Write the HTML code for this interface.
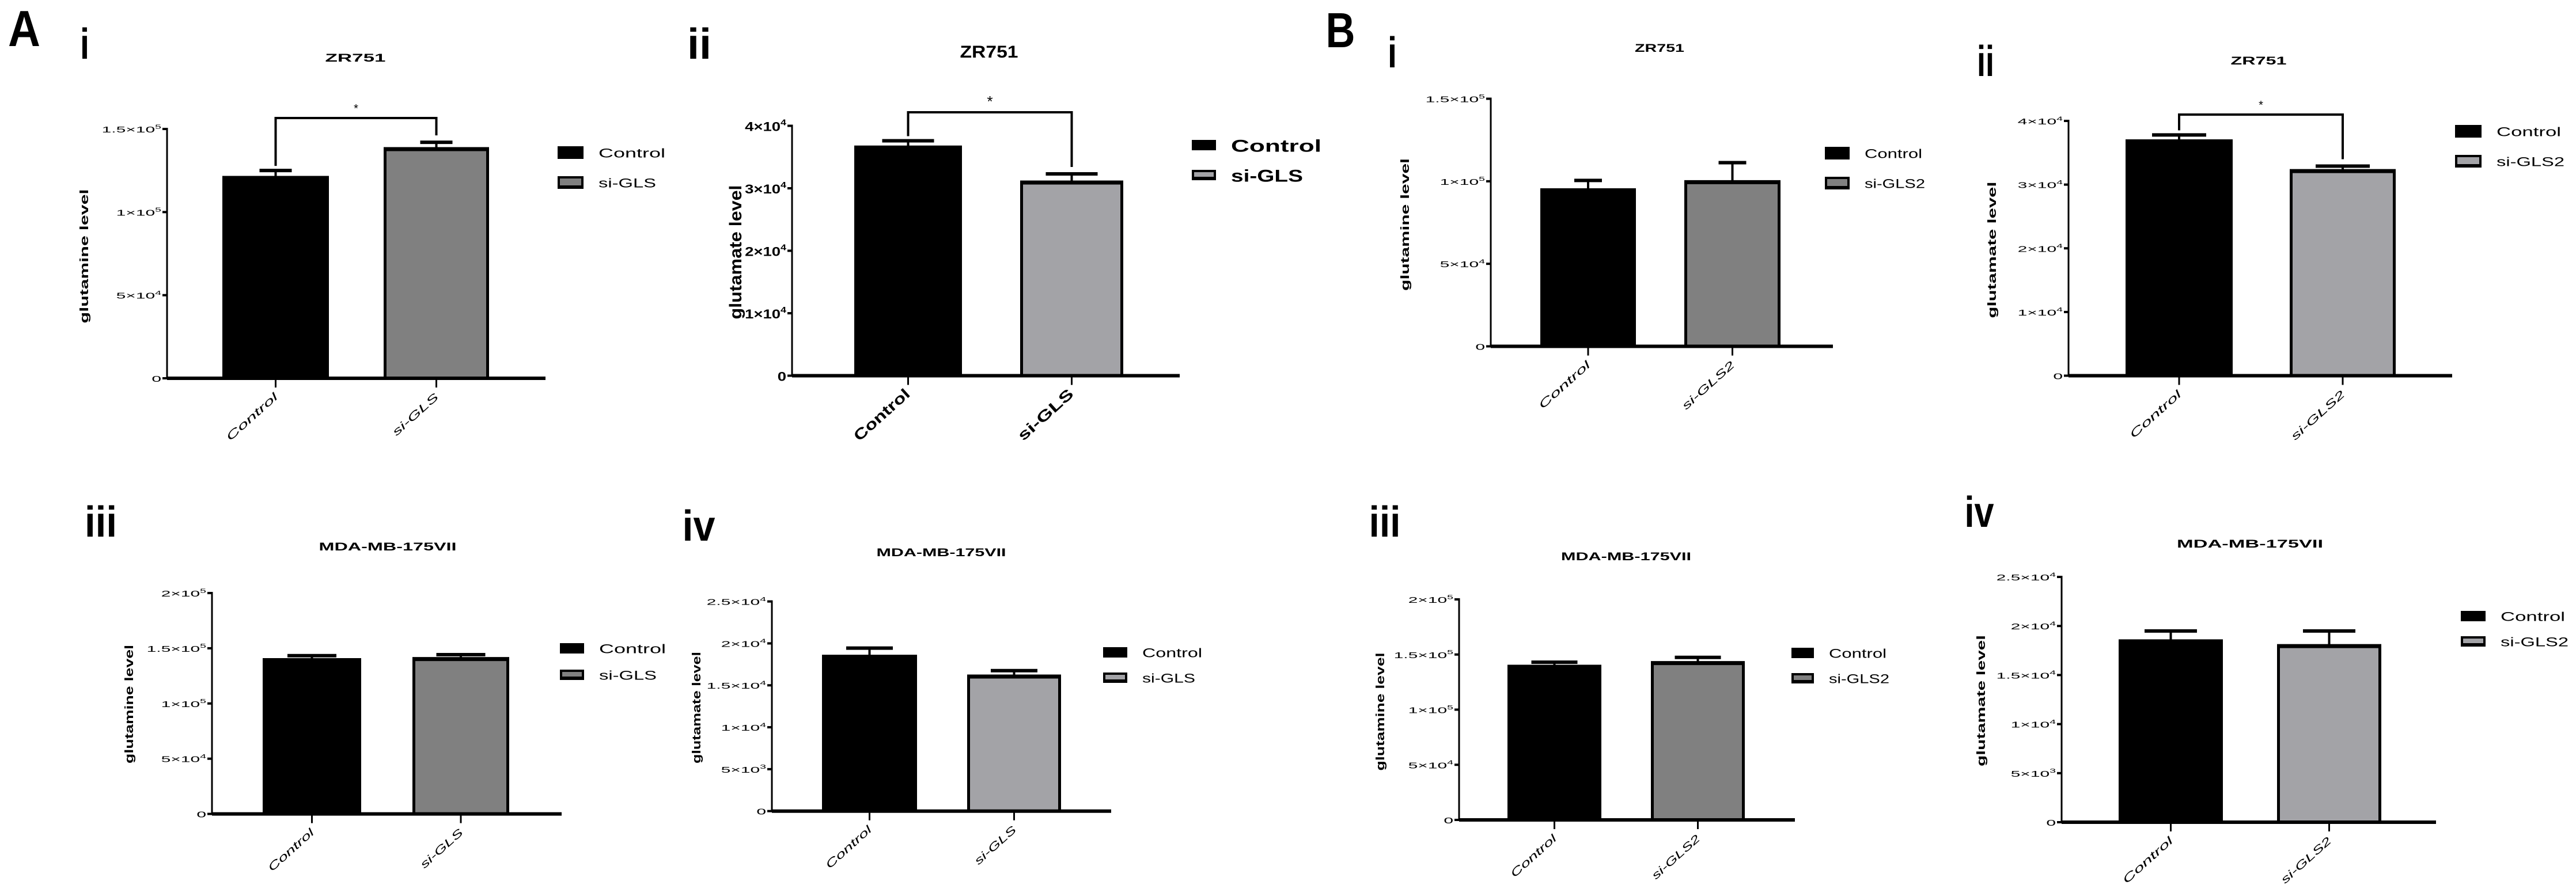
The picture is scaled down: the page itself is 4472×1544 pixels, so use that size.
<!DOCTYPE html>
<html><head><meta charset="utf-8"><style>
html,body{margin:0;padding:0;background:#fff;}
svg{display:block;}
text{font-family:"Liberation Sans",sans-serif;fill:#000;}
</style></head><body>
<svg id="fig" width="4472" height="1544" viewBox="0 0 4472 1544" xmlns="http://www.w3.org/2000/svg"></svg>
<script>
// ---- data ----
const catsA = ["Control","si-GLS"];
const catsB = ["Control","si-GLS2"];
const aiValues = [121600,138900];  const aiErrors = [3400,3100];
const aiiValues = [36800,31200];   const aiiErrors = [800,1100];
const aiiiValues = [140800,141800];const aiiiErrors = [2500,2400];
const aivValues = [18610,16250];   const aivErrors = [830,500];
const biValues = [95600,100500];   const biErrors = [4900,10800];
const biiValues = [37060,32400];   const biiErrors = [740,500];
const biiiValues = [140500,143800];const biiiErrors = [2500,3600];
const bivValues = [18610,18130];   const bivErrors = [880,1360];
const ticks15e5 = [0,50000,100000,150000];
const labels15e5 = ["0","5×10^4","1×10^5","1.5×10^5"];
const ticks4e4 = [0,10000,20000,30000,40000];
const labels4e4 = ["0","1×10^4","2×10^4","3×10^4","4×10^4"];
const ticks2e5 = [0,50000,100000,150000,200000];
const labels2e5 = ["0","5×10^4","1×10^5","1.5×10^5","2×10^5"];
const ticks25e4 = [0,5000,10000,15000,20000,25000];
const labels25e4 = ["0","5×10^3","1×10^4","1.5×10^4","2×10^4","2.5×10^4"];

const NS="http://www.w3.org/2000/svg";
const svg=document.getElementById('fig');
function el(tag,attrs,parent){const e=document.createElementNS(NS,tag);for(const k in attrs)e.setAttribute(k,attrs[k]);(parent||svg).appendChild(e);return e;}
function txt(parent,x,y,str,size,opts){
  opts=opts||{};
  const t=el('text',{x:x,y:y,'font-size':size,'text-anchor':opts.anchor||'middle','font-weight':opts.bold?'bold':'normal'},parent);
  if(opts.len){t.setAttribute('textLength',opts.len);t.setAttribute('lengthAdjust','spacingAndGlyphs');}
  if(opts.rot!==undefined)t.setAttribute('transform','rotate('+opts.rot+' '+x+' '+y+')');
  t.textContent=str;return t;
}
function tickLabel(parent,x,y,lab,size,sx,bold){
  const g=el('g',{transform:'translate('+x+' '+y+') scale('+sx+' 1)'},parent);
  const t=el('text',{x:0,y:0,'font-size':size,'text-anchor':'end','font-weight':bold?'bold':'normal'},g);
  const parts=lab.split('^');
  const a=el('tspan',{},t);a.textContent=parts[0];
  if(parts[1]){const b=el('tspan',{dy:-size*0.45,'font-size':size*0.65},t);b.textContent=parts[1];}
  return t;
}

function panel(p,values,errors,ticks,tickLabels,cats){
  const g=el('g',{});
  
  
  const y=v=>p.zero-(v/p.max)*(p.zero-p.top);
  // panel numeral & title
  const pl=txt(g,p.numX,p.numY,p.num,p.numSize,{bold:true,len:p.numW});
  
  const tt=txt(g,p.titleX,p.titleY,p.title,p.titleSize,{bold:true,len:p.titleW});
  
  // y axis
  const ya=el('line',{x1:p.ax,y1:p.top-2,x2:p.ax,y2:p.zero,stroke:'#000','stroke-width':3},g);
  
  ticks.forEach((tv,i)=>{
    const ty=y(tv);
    const tk=el('line',{x1:p.ax-8,y1:ty,x2:p.ax,y2:ty,stroke:'#000','stroke-width':4},g);
    
    const tl=tickLabel(g,p.ax-10,ty+p.tickSize*0.4,tickLabels[i],p.tickSize,p.tickSx,p.bold);
    
  });
  const yl=txt(g,p.ylX,p.ylY,p.ylabel,p.ylSize,{bold:true,len:p.ylLen,rot:-90});
  
  // bars
  const fills=['#000',p.grey];
  const centers=[];
  values.forEach((v,i)=>{
    const x0=p.bars[i][0],x1=p.bars[i][1],cx=(x0+x1)/2;centers.push(cx);
    const top=y(v),et=y(v+errors[i]);
    const eb=el('line',{x1:cx,y1:top,x2:cx,y2:et,stroke:'#000','stroke-width':4},g);
    
    const cap=el('line',{x1:cx-p.cap/2,y1:et,x2:cx+p.cap/2,y2:et,stroke:'#000','stroke-width':6},g);
    
    const r=el('rect',{x:x0+2.5,y:top+2.5,width:x1-x0-5,height:p.zero-top-2.5,fill:fills[i],stroke:'#000','stroke-width':5},g);
    
    const tb=el('line',{x1:x0,y1:top+3,x2:x1,y2:top+3,stroke:'#000','stroke-width':7},g);
    
    const xt=el('line',{x1:cx,y1:p.zero,x2:cx,y2:p.zero+16,stroke:'#000','stroke-width':3},g);
    
    const xl=txt(g,cx+5,p.zero+34,cats[i],p.xlSize,{anchor:'end',bold:p.bold,len:p.xlLen[i],rot:-42});
    xl.setAttribute('font-style',p.bold?'normal':'italic');
    
  });
  const xa=el('line',{x1:p.ax,y1:p.zero,x2:p.right,y2:p.zero,stroke:'#000','stroke-width':6},g);
  
  // significance bracket
  if(p.bracket){
    const e0=y(values[0]+errors[0])-8,e1=y(values[1]+errors[1])-12;
    const br=el('polyline',{points:centers[0]+','+e0+' '+centers[0]+','+p.bracket+' '+centers[1]+','+p.bracket+' '+centers[1]+','+e1,fill:'none',stroke:'#000','stroke-width':4},g);
    
    const st=txt(g,(centers[0]+centers[1])/2,p.bracket-10,'*',p.bold?26:20,{});
    
  }
  // legend
  cats.forEach((c,i)=>{
    const ly=p.legY+i*p.legGap;
    const lg=el('g',{},g);
    
    el('rect',{x:p.legX,y:ly-p.legH/2,width:p.legW,height:p.legH,fill:'#000'},lg);
    if(i===1)el('rect',{x:p.legX+4,y:ly-p.legH/2+4,width:p.legW-8,height:p.legH-10,fill:p.grey},lg);
    txt(lg,p.legX+p.legW+26,ly+p.legSize*0.38,c,p.legSize,{anchor:'start',bold:p.bold,len:p.legLen[i]});
  });
}

const G1='#808080',G2='#a3a3a7';
const small={tickSize:15,tickSx:2,xlSize:19,legSize:22,ylSize:20,titleSize:19,numSize:75,bold:false};
function P(o){return Object.assign({},small,o);}

panel(P({name:'panel-a-i',num:'i',numX:147,numY:102,numW:16,title:'ZR751',titleX:617,titleY:107,titleW:105,
  ax:290,top:224,zero:657,right:947,max:150000,bars:[[386,571],[666,849]],cap:56,grey:G1,
  ylabel:'glutamine level',ylX:153,ylY:445,ylLen:233,xlLen:[113,100],
  legX:968,legY:265,legGap:52,legW:45,legH:22,legLen:[116,100],bracket:205}),
  aiValues,aiErrors,ticks15e5,labels15e5,catsA);

panel(P({name:'panel-a-ii',num:'ii',numX:1214,numY:102,numW:42,title:'ZR751',titleX:1717,titleY:100,titleW:101,titleSize:30,
  ax:1375,top:218.5,zero:652.5,right:2048,max:40000,bars:[[1483,1670],[1771,1950]],cap:90,grey:G2,
  tickSize:22,tickSx:1.25,bold:true,xlSize:26,legSize:30,ylSize:30,
  ylabel:'glutamate level',ylX:1287,ylY:438,ylLen:233,xlLen:[121,120],
  legX:2069,legY:252,legGap:52,legW:42,legH:18,legLen:[157,125],bracket:195}),
  aiiValues,aiiErrors,ticks4e4,labels4e4,catsA);

panel(P({name:'panel-b-i',num:'i',numX:2417,numY:117,numW:16,title:'ZR751',titleX:2881,titleY:90,titleW:86,
  ax:2588,top:171.5,zero:601.5,right:3182,max:150000,bars:[[2674,2840],[2924,3091]],cap:48,grey:G1,
  ylabel:'glutamine level',ylX:2446,ylY:390,ylLen:230,xlLen:[113,115],
  legX:3168,legY:266,legGap:52,legW:43,legH:22,legLen:[100,105]}),
  biValues,biErrors,ticks15e5,labels15e5,catsB);

panel(P({name:'panel-b-ii',num:'ii',numX:3447,numY:132,numW:30,title:'ZR751',titleX:3921,titleY:112,titleW:97,
  ax:3591,top:210,zero:652.5,right:4257,max:40000,bars:[[3690,3876],[3975,4159]],cap:94,grey:G2,
  ylabel:'glutamate level',ylX:3465,ylY:434,ylLen:237,xlLen:[113,118],
  legX:4262,legY:228,legGap:52,legW:46,legH:22,legLen:[112,118],bracket:199}),
  biiValues,biiErrors,ticks4e4,labels4e4,catsB);

panel(P({name:'panel-a-iii',num:'iii',numX:175,numY:932,numW:56,title:'MDA-MB-175VII',titleX:673,titleY:956,titleW:239,
  ax:368,top:1030,zero:1413.6,right:975,max:200000,bars:[[456,627],[716,884]],cap:85,grey:G1,
  ylabel:'glutamine level',ylX:231,ylY:1223,ylLen:206,xlLen:[100,92],
  legX:972,legY:1126,legGap:46,legW:42,legH:18,legLen:[116,100]}),
  aiiiValues,aiiiErrors,ticks2e5,labels2e5,catsA);

panel(P({name:'panel-a-iv',num:'iv',numX:1213,numY:939,numW:57,title:'MDA-MB-175VII',titleX:1634,titleY:966,titleW:225,
  ax:1340,top:1044.6,zero:1408.7,right:1929,max:25000,bars:[[1427,1592],[1679,1842]],cap:81,grey:G2,
  ylabel:'glutamate level',ylX:1216,ylY:1229,ylLen:194,xlLen:[100,90],
  legX:1915,legY:1133,legGap:44,legW:42,legH:18,legLen:[104,92]}),
  aivValues,aivErrors,ticks25e4,labels25e4,catsA);

panel(P({name:'panel-b-iii',num:'iii',numX:2404,numY:932,numW:55,title:'MDA-MB-175VII',titleX:2823,titleY:973,titleW:226,
  ax:2533,top:1041,zero:1424,right:3116,max:200000,bars:[[2617,2780],[2866,3029]],cap:80,grey:G1,
  ylabel:'glutamine level',ylX:2403,ylY:1236,ylLen:205,xlLen:[100,105],
  legX:3110,legY:1134,legGap:44,legW:39,legH:18,legLen:[100,105]}),
  biiiValues,biiiErrors,ticks2e5,labels2e5,catsB);

panel(P({name:'panel-b-iv',num:'iv',numX:3436,numY:915,numW:51,title:'MDA-MB-175VII',titleX:3906,titleY:951,titleW:254,
  ax:3579,top:1002,zero:1428,right:4229,max:25000,bars:[[3678,3859],[3953,4134]],cap:91,grey:G2,
  ylabel:'glutamate level',ylX:3446,ylY:1217,ylLen:228,xlLen:[110,110],
  legX:4272,legY:1070,legGap:44,legW:43,legH:18,legLen:[112,118]}),
  bivValues,bivErrors,ticks25e4,labels25e4,catsB);

// figure letters
const la=txt(svg,42,80,'A',88,{bold:true,len:56});


const lb=txt(svg,2327,82,'B',85,{bold:true,len:51});


</script>
</body></html>
